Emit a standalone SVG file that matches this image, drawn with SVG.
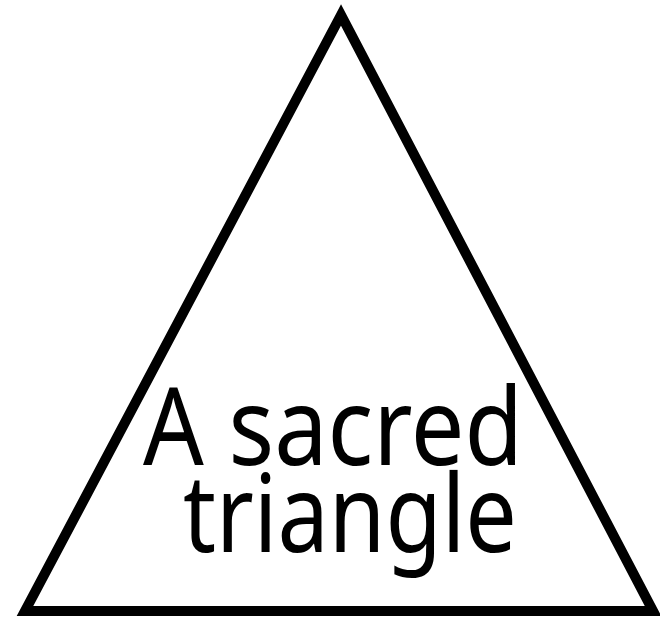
<svg xmlns="http://www.w3.org/2000/svg" width="660" height="618" viewBox="0 0 660 618">
<style>
.lbl{font-family:"Noto Sans","DejaVu Sans",sans-serif;font-size:108px;fill:#000}
</style>
<rect width="660" height="618" fill="#fff"/>
<g id="triangle">
<polygon points="341,15 25,611 653,611" fill="none" stroke="#000" stroke-width="10" stroke-linejoin="miter" stroke-miterlimit="10"/>
<text class="lbl" x="143" y="465" textLength="380" lengthAdjust="spacingAndGlyphs">A sacred</text>
<text class="lbl" x="183" y="552" textLength="334" lengthAdjust="spacingAndGlyphs">triangle</text>
</g>
</svg>
